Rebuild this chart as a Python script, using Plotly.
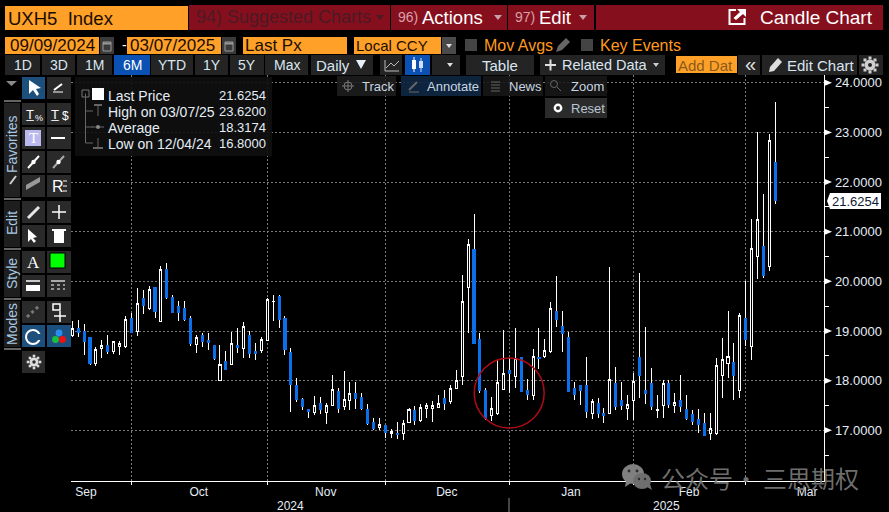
import plotly.graph_objects as go

W, H = 889, 512
FONT = "Liberation Sans"
CJK = "Noto Sans CJK SC"

# ---------- data ----------
opens = [18.91,19.05,18.99,18.86,18.34,18.64,18.70,18.58,18.68,18.68,19.26,18.99,19.66,19.45,19.87,19.19,20.24,19.68,19.50,19.46,
         19.26,18.72,18.90,18.80,18.70,18.00,18.38,18.32,18.70,18.64,18.90,18.58,18.60,18.81,19.59,19.70,19.26,18.56,17.91,17.63,
         17.41,17.35,17.55,17.35,17.50,17.79,17.47,17.60,17.75,17.67,17.41,17.15,17.05,17.09,16.93,16.93,16.93,17.15,17.39,17.19,
         17.44,17.43,17.45,17.65,17.59,17.85,18.08,19.87,20.65,18.82,17.81,17.29,17.33,17.83,18.21,18.09,18.46,17.81,17.71,18.46,
         18.48,18.58,19.40,19.10,18.86,17.85,17.91,17.91,17.33,17.55,17.33,17.34,17.95,17.61,17.44,17.60,18.46,17.81,17.95,17.40,
         17.50,17.95,17.50,17.61,17.41,17.31,17.21,17.13,16.93,16.93,18.10,18.34,18.36,17.80,19.26,18.68,20.50,20.71,20.29,22.40]
highs = [19.20,19.22,19.15,18.86,18.67,18.82,18.92,18.80,18.80,19.30,19.36,19.87,19.82,19.90,19.87,20.31,20.36,19.72,19.60,19.60,
         19.30,18.91,18.95,18.96,18.70,18.72,18.60,18.98,19.06,19.18,19.00,18.76,18.88,19.66,19.72,19.72,19.30,18.66,18.05,17.65,
         17.43,17.69,17.67,17.55,18.11,17.85,18.19,17.97,17.97,17.75,17.53,17.25,17.25,17.11,17.03,17.17,17.21,17.45,17.49,17.53,
         17.55,17.59,17.71,17.81,17.91,18.21,20.13,20.85,21.35,18.96,17.85,17.67,18.42,19.02,18.46,19.06,18.48,18.03,18.64,19.06,
         18.84,19.58,20.11,19.40,18.98,17.97,17.91,18.48,17.63,17.65,17.45,20.29,18.27,17.97,17.71,18.15,20.17,19.08,18.25,17.71,
         18.01,18.01,17.75,18.11,17.71,17.41,17.43,17.35,17.35,18.46,18.86,19.40,18.76,19.36,20.01,21.25,23.00,21.76,22.97,23.62]
lows = [18.87,18.87,18.52,18.32,18.29,18.46,18.54,18.54,18.52,18.66,18.97,18.90,19.34,19.43,19.26,19.19,19.64,19.37,19.20,19.21,
        18.70,18.56,18.68,18.62,18.42,18.00,18.23,18.31,18.56,18.46,18.46,18.42,18.56,18.81,19.20,19.06,18.52,17.37,17.57,17.41,
        17.25,17.31,17.33,17.13,17.50,17.35,17.41,17.41,17.43,17.41,17.11,17.01,17.01,16.85,16.85,16.83,16.80,17.14,17.11,17.17,
        17.25,17.17,17.45,17.41,17.53,17.83,17.91,18.96,18.74,17.75,17.21,17.19,17.31,17.83,17.75,17.85,17.79,17.61,17.61,18.23,
        18.46,18.56,19.08,18.58,17.77,17.61,17.51,17.25,17.23,17.25,17.15,17.33,17.41,17.41,17.21,17.21,17.65,17.53,17.41,17.25,
        17.25,17.45,17.35,17.37,17.21,17.11,16.95,16.89,16.81,16.91,17.65,18.05,17.61,17.65,18.70,18.42,20.05,20.07,20.21,21.56]
closes = [19.05,18.96,18.78,18.34,18.63,18.71,18.58,18.78,18.75,19.23,18.97,19.56,19.51,19.84,19.40,20.24,19.68,19.37,19.38,19.24,
          18.74,18.87,18.78,18.76,18.44,18.33,18.23,18.75,18.66,19.09,18.54,18.54,18.82,19.64,19.60,19.24,18.62,17.93,17.63,17.47,
          17.37,17.49,17.41,17.50,17.83,17.43,17.62,17.74,17.65,17.43,17.13,17.03,17.11,16.95,16.97,16.91,17.13,17.41,17.19,17.45,
          17.49,17.49,17.53,17.53,17.85,18.01,19.60,20.75,18.74,17.81,17.23,17.43,17.97,18.15,18.15,18.44,17.79,17.73,18.48,18.44,
          18.60,19.46,19.24,18.94,17.79,17.73,17.81,17.37,17.59,17.33,17.29,18.03,17.47,17.49,17.52,17.99,18.11,17.75,17.47,17.42,
          17.95,17.51,17.56,17.47,17.23,17.17,17.11,16.89,17.04,18.31,18.43,18.49,18.11,19.32,18.82,20.66,21.25,20.11,22.84,21.6254]

month_labels = ["Sep", "Oct", "Nov", "Dec", "Jan", "Feb", "Mar"]
month_label_pos = [2.3, 21.4, 42.9, 63.4, 84.4, 104.4, 124.4]
month_starts = [10, 33, 53, 74, 95, 114]
y_ticks = [17, 18, 19, 20, 21, 22, 23, 24]
y_minor = [16.5, 17.5, 18.5, 19.5, 20.5, 21.5, 22.5, 23.5]
year_labels = ["2024", "2025"]

legend_rows = [("Last Price", "21.6254"), ("High on 03/07/25", "23.6200"),
               ("Average", "18.3174"), ("Low on 12/04/24", "16.8000")]

# ---------- marks ----------
idx = list(range(len(opens)))
down = [i for i in idx if closes[i] < opens[i]]
BLUE = "#0a6fe8"

fig = go.Figure()
fig.add_trace(go.Candlestick(
    x=idx, open=opens, high=highs, low=lows, close=closes,
    whiskerwidth=0, showlegend=False, hoverinfo="skip",
    increasing=dict(line=dict(color="#ffffff", width=1), fillcolor="#000000"),
    decreasing=dict(line=dict(color="#ffffff", width=1), fillcolor=BLUE)))
fig.add_trace(go.Candlestick(
    x=down, open=[opens[i] for i in down], high=[opens[i] for i in down],
    low=[closes[i] for i in down], close=[closes[i] for i in down],
    whiskerwidth=0, showlegend=False, hoverinfo="skip",
    increasing=dict(line=dict(color=BLUE, width=1), fillcolor=BLUE),
    decreasing=dict(line=dict(color=BLUE, width=1), fillcolor=BLUE)))

# ---------- chrome helpers (pixel positions to paper) ----------
shapes, notes = [], []
px = lambda v: v / W
py = lambda v: 1 - v / H


def rect(x0, y0, x1, y1, fill, line=None, lw=1):
    shapes.append(dict(type="rect", xref="paper", yref="paper", x0=px(x0), x1=px(x1), y0=py(y0), y1=py(y1),
                       fillcolor=fill, line=dict(color=line or "rgba(0,0,0,0)", width=lw if line else 0), layer="above"))


def seg(x0, y0, x1, y1, color, lw=1, dash=None):
    shapes.append(dict(type="line", xref="paper", yref="paper", x0=px(x0), x1=px(x1), y0=py(y0), y1=py(y1),
                       line=dict(color=color, width=lw, dash=dash or "solid"), layer="above"))


def poly(pts, fill):
    p = "M " + " L ".join(f"{px(a):.5f} {py(b):.5f}" for a, b in pts) + " Z"
    shapes.append(dict(type="path", xref="paper", yref="paper", path=p, fillcolor=fill,
                       line=dict(width=0, color="rgba(0,0,0,0)"), layer="above"))


def circ(cx, cy, r, fill=None, line=None, lw=1, ry=None):
    ry = ry or r
    shapes.append(dict(type="circle", xref="paper", yref="paper", x0=px(cx - r), x1=px(cx + r),
                       y0=py(cy + ry), y1=py(cy - ry), fillcolor=fill or "rgba(0,0,0,0)",
                       line=dict(color=line or "rgba(0,0,0,0)", width=lw if line else 0), layer="above"))


def text(x, y, s, size=13, color="#dfe8f0", anchor="left", family=FONT, angle=0):
    notes.append(dict(xref="paper", yref="paper", x=px(x), y=py(y), text=s, showarrow=False,
                      xanchor=anchor, yanchor="middle", textangle=angle, borderpad=0, borderwidth=0,
                      font=dict(family=family, size=size, color=color)))


ORANGE = "#ffa028"
RED = "#860f1e"
BTN = "#242424"
INK = "#d9e6f2"
AMBER = "#ff9a1e"

# ---------- row 1 ----------
rect(5, 6, 188, 30, ORANGE)
text(8, 18, "UXH5  Index", 18.5, "#1a0d00")
rect(189, 5, 390, 30, RED)
text(196, 17, "94) Suggested Charts", 18, "#4c1a24")
poly([(376, 15), (384, 15), (380, 20)], "#4c1a24")
rect(391, 5, 507, 30, RED)
text(398, 17, "96)", 14, "#d9a0a8")
text(422, 17, "Actions", 18.5, "#ffffff")
poly([(494, 15), (502, 15), (498, 20)], "#c9a0a8")
rect(508, 5, 594, 30, RED)
text(515, 17, "97)", 14, "#d9a0a8")
text(539, 17, "Edit", 18.5, "#ffffff")
poly([(579, 15), (587, 15), (583, 20)], "#c9a0a8")
rect(596, 5, 883, 30, RED)
rect(729.5, 10, 744.5, 24, "rgba(0,0,0,0)", "#ffffff", 2)
rect(736, 7, 747, 18, RED)
poly([(737, 9), (746, 9), (746, 17), (743, 14), (736, 20), (733.5, 18), (740, 12)], "#ffffff")
text(760, 17, "Candle Chart", 19, "#ffffff")

# ---------- row 2 ----------
rect(5, 37, 99, 54, ORANGE)
text(10, 45.5, "09/09/2024", 17, "#1a0d00")
rect(100, 37, 114, 54, "#3a3a3a")
rect(103, 42, 111, 51, "rgba(0,0,0,0)", "#999999", 1)
seg(103, 43.5, 111, 43.5, "#999999", 2)
text(122, 45, "-", 14, "#ffffff")
rect(127, 37, 221, 54, ORANGE)
text(130, 45.5, "03/07/2025", 17, "#1a0d00")
rect(222, 37, 236, 54, "#3a3a3a")
rect(225, 42, 233, 51, "rgba(0,0,0,0)", "#999999", 1)
seg(225, 43.5, 233, 43.5, "#999999", 2)
rect(243, 37, 347, 54, ORANGE)
text(245, 45.5, "Last Px", 17, "#1a0d00")
rect(354, 37, 441, 54, ORANGE)
text(356, 45.5, "Local CCY", 15, "#1a0d00")
rect(442, 37, 456, 54, "#4a4a4a")
poly([(446, 44), (452, 44), (449, 48)], "#e0e0e0")
rect(465, 39, 477, 51, "#444444")
text(484, 45.5, "Mov Avgs", 16, AMBER)
poly([(556, 52), (558, 46), (566, 38), (570, 42), (562, 50)], "#666666")
rect(581, 39, 593, 51, "#444444")
text(600, 45.5, "Key Events", 16, AMBER)

# ---------- row 3 ----------
for x0, x1, lab in [(5, 40, "1D"), (42, 75, "3D"), (77, 112, "1M"), (151, 193, "YTD"),
                    (195, 228, "1Y"), (230, 264, "5Y"), (265, 308, "Max")]:
    rect(x0, 55, x1, 75, BTN)
    text((x0 + x1) / 2, 65, lab, 14, INK, "center")
rect(114, 55, 150, 75, "#0b50b3")
text(132, 65, "6M", 14, "#ffffff", "center")
rect(311, 55, 373, 75, BTN)
text(316, 65, "Daily", 15, INK)
poly([(356, 60), (366, 60), (361, 69)], "#e8f0f8")
rect(380, 55, 402, 75, BTN)
seg(385, 60, 385, 71, "#bbbbbb")
seg(385, 71, 399, 71, "#bbbbbb")
seg(386, 68, 391, 63, "#bbbbbb")
seg(391, 63, 394, 66, "#bbbbbb")
seg(394, 66, 399, 61, "#bbbbbb")
rect(405, 55, 430, 75, "#0b50b3")
seg(414, 57, 414, 72, "#ffffff")
rect(412, 60, 416, 69, "#ffffff")
seg(421, 58, 421, 72, "#cfe0f5")
rect(419, 61, 423, 68, "#cfe0f5")
rect(432, 55, 460, 75, BTN)
poly([(447, 63), (453, 63), (450, 67)], "#dddddd")
rect(466, 55, 534, 75, BTN)
text(500, 65, "Table", 15, INK, "center")
rect(540, 55, 665, 75, BTN)
seg(545, 65, 556, 65, "#e0e0e0", 2)
seg(550.5, 59.5, 550.5, 70.5, "#e0e0e0", 2)
text(562, 65, "Related Data", 14.5, INK)
poly([(653, 63), (659, 63), (656, 67)], "#cccccc")
rect(676, 56, 737, 73, ORANGE)
text(678, 65, "Add Dat", 15, "#8a5a1a")
rect(738, 55, 760, 75, BTN)
text(750, 64, "«", 20, "#e0e0e0", "center")
rect(762, 55, 857, 75, BTN)
poly([(769, 72), (770, 67), (778, 58), (782, 62), (774, 71)], "#dddddd")
text(787, 65, "Edit Chart", 15, INK)
rect(859, 55, 883, 75, BTN)
circ(870, 65, 5.5, "#d0d0d0")
circ(870, 65, 2, "#242424")
for dx, dy in [(0, -7), (0, 7), (-7, 0), (7, 0), (-5, -5), (5, -5), (-5, 5), (5, 5)]:
    rect(870 + dx - 1.5, 65 + dy - 1.5, 870 + dx + 1.5, 65 + dy + 1.5, "#d0d0d0")

# ---------- mini toolbar over the plot ----------
rect(337, 76, 396, 96, "rgba(30,30,30,0.85)")
circ(348, 86, 4, None, "#777777")
seg(342, 86, 354, 86, "#777777")
seg(348, 80, 348, 92, "#777777")
text(362, 86, "Track", 13, "#c9d6e2")
rect(401, 76, 481, 96, "rgba(16,40,66,0.9)")
seg(409, 90, 417, 82, "#666666", 2)
seg(409, 92, 419, 92, "#666666")
text(427, 86, "Annotate", 13, "#c9d6e2")
rect(483, 76, 543, 96, "rgba(25,25,25,0.85)")
for yy in [82, 85, 88, 91]:
    seg(491, yy, 500, yy, "#666666")
text(509, 86, "News", 13, "#c9d6e2")
rect(545, 76, 607, 96, "rgba(25,25,25,0.85)")
circ(554, 84, 3.5, None, "#666666")
seg(557, 87, 561, 91, "#666666")
text(571, 86, "Zoom", 13, "#c9d6e2")
rect(545, 98, 607, 118, "#2b2b2b")
circ(558, 108, 3.2, None, "#ffffff", 2.4)
text(571, 108, "Reset", 13, "#b9c6d2")

# ---------- legend panel ----------
rect(75, 77, 272, 156, "rgba(16,16,16,0.9)")
rect(82, 90, 89, 97, "rgba(0,0,0,0)", "#777777")
seg(85.5, 93.5, 85.5, 143, "#666666")
for yy in [111, 127, 143]:
    seg(85.5, yy, 93, yy, "#666666")
rect(92, 88, 104, 100, "#ffffff")
seg(98, 105, 98, 116, "#666666")
seg(94, 105, 102, 105, "#666666", 2)
seg(92, 127, 104, 127, "#666666")
circ(98, 127, 2, "#888888")
seg(98, 138, 98, 149, "#666666")
seg(93, 148, 103, 148, "#666666", 2)
for yy, (lab, val) in zip([95.5, 111.5, 127.5, 143.5], legend_rows):
    text(108, yy, lab, 14, "#e4edf5")
    text(266, yy, val, 13, "#e4edf5", "right")

# ---------- left toolbar ----------
poly([(6, 81), (17, 81), (11.5, 86)], "#8a8a8a")
rows = [77, 103, 127, 151, 175, 201, 225, 251, 275, 301, 325, 351]
for i, yy in enumerate(rows):
    rect(22, yy, 45, yy + 22, "#1d4f7d" if i in (0, 10) else "#2a2a2a")
    if i < 11:
        rect(47, yy, 71, yy + 22, "#1d4f7d" if i == 10 else "#2a2a2a")
rect(4, 103, 20, 197, "#222222")
rect(4, 201, 20, 247, "#1e1e1e")
rect(4, 251, 20, 297, "#1e1e1e")
rect(4, 301, 20, 347, "#1e1e1e")
for yy in [101, 199, 249, 299, 349]:
    seg(4, yy, 21, yy, "#c8c8c8")
text(12, 144, "Favorites", 14, "#a9c8e0", "center", angle=-90)
text(12, 223, "Edit", 14, "#a9c8e0", "center", angle=-90)
text(12, 274, "Style", 14, "#a9c8e0", "center", angle=-90)
text(12, 324, "Modes", 14, "#a9c8e0", "center", angle=-90)
seg(10, 184, 16, 176, "#d0d0d0", 2)
poly([(29, 80), (29, 94), (33, 90), (37, 96), (39, 94), (36, 89), (41, 88)], "#ffffff")
seg(54, 90, 62, 84, "#ffffff", 2)
seg(53, 92, 63, 92, "#ffffff")
text(30, 114, "T̲", 13, "#ffffff", "center")
text(55, 114, "T̲", 13, "#ffffff", "center")
text(39, 118, "%", 9, "#ffffff", "center")
text(65, 116, "$", 12, "#ffffff", "center")
rect(25, 130, 41, 146, "#b9b9f0")
text(33, 138, "T", 15, "#ffffff", "center", "Liberation Serif")
seg(51, 138, 65, 138, "#ffffff", 2)
seg(28, 168, 39, 156, "#ffffff", 2)
circ(33.5, 162, 2.2, "#ffffff")
seg(53, 168, 64, 156, "#aaaaaa", 2)
circ(58.5, 162, 2.2, "#ffffff")
poly([(26, 190), (40, 182), (40, 177), (26, 185)], "#999999")
text(52, 186, "R", 16, "#ffffff")
for yy in [181, 186, 191]:
    seg(63, yy, 67, yy, "#ffffff")
seg(28, 218, 39, 207, "#e6e6e6", 3)
seg(52, 212, 66, 212, "#ffffff", 1.5)
seg(59, 205, 59, 219, "#ffffff", 1.5)
poly([(28, 229), (28, 242), (31, 239), (34, 243), (36, 241), (33, 238), (37, 237)], "#ffffff")
rect(54, 231, 64, 243, "#ffffff")
rect(52, 229, 66, 231, "#ffffff")
text(33, 262, "A", 17, "#ffffff", "center", "Liberation Serif")
rect(50, 253, 65, 268, "#00ff00", "#000000", 1)
seg(26, 281, 40, 281, "#ffffff", 1.5)
rect(26, 285, 40, 291, "#ffffff")
seg(51, 281, 65, 281, "#ffffff", 1.2)
seg(51, 285, 65, 285, "#ffffff", 1, "dot")
seg(51, 289, 65, 289, "#ffffff", 1, "dot")
seg(27, 317, 39, 306, "#777777", 3, "dot")
rect(53, 304, 60, 310, "rgba(0,0,0,0)", "#ffffff", 1.5)
seg(54, 316, 66, 316, "#ffffff", 1.5)
seg(60, 311, 60, 322, "#ffffff", 1.5)
circ(33, 337, 7, None, "#ffffff", 2)
rect(35, 334, 43, 340, "#1d4f7d")
circ(59, 333, 3.4, "#2b8cf0")
circ(55.5, 339.5, 3.4, "#18c040")
circ(62.5, 339.5, 3.4, "#ee1111")
circ(34, 362, 4.5, "#dddddd")
circ(34, 362, 1.7, "#2a2a2a")
for dx, dy in [(0, -6), (0, 6), (-6, 0), (6, 0), (-4, -4), (4, -4), (-4, 4), (4, 4)]:
    rect(34 + dx - 1.3, 362 + dy - 1.3, 34 + dx + 1.3, 362 + dy + 1.3, "#dddddd")

# ---------- annotation on the chart ----------
circ(509.2, 393, 35, None, "#b00b15", 1.5)

# ---------- y tick arrows, last price tag, year labels ----------
for v in y_ticks:
    shapes.append(dict(type="path", xref="paper", yref="y", layer="above",
                       path=f"M {px(824.3):.5f} {v - 0.065} L {px(832):.5f} {v} L {px(824.3):.5f} {v + 0.065} Z",
                       fillcolor="#ffffff", line=dict(width=0, color="rgba(0,0,0,0)")))
poly([(827, 201), (830, 193), (881, 193), (881, 209), (830, 209)], "#ffffff")
text(879, 201, f"{closes[-1]:.4f}", 13, "#0d1a33", "right")
text(290, 505.5, year_labels[0], 12, "#e4edf5", "center")
text(666, 505.5, year_labels[1], 12, "#e4edf5", "center")
seg(509, 498, 509, 512, "#8a8a8a")

# ---------- watermark ----------
MARK = "rgba(125,125,125,0.9)"
circ(633, 474, 11, "#808080", ry=10)
circ(642, 481, 9, "#6e6e6e", ry=8)
poly([(626, 481), (625, 487), (631, 483)], "#808080")
poly([(647, 487), (652, 490), (650, 484)], "#6e6e6e")
for cx, cy in [(629, 471), (637, 471)]:
    circ(cx, cy, 1.4, "#2a2a2a")
for cx, cy in [(639, 479), (645, 479)]:
    circ(cx, cy, 1.2, "#2a2a2a")
text(661, 477, "公众号", 24, MARK, family=CJK)
text(746, 477, "·", 24, MARK, "center", family=CJK)
text(763, 477, "三思期权", 24, MARK, family=CJK)

# ---------- layout ----------
fig.update_layout(
    width=W, height=H, autosize=False,
    margin=dict(l=0, r=0, t=0, b=0, pad=0),
    paper_bgcolor="#000000", plot_bgcolor="#000000",
    showlegend=False, boxgap=0.5,
    shapes=shapes, annotations=notes,
    xaxis=dict(domain=[71 / W, 824.3 / W], range=[-0.22, 127.3], rangeslider=dict(visible=False),
               tickmode="array", tickvals=month_label_pos, ticktext=month_labels,
               ticks="", showgrid=False, zeroline=False,
               tickfont=dict(family=FONT, size=12, color="#e4edf5"),
               showline=True, linecolor="#ffffff", linewidth=1,
               minor=dict(tickmode="array", tickvals=month_starts, ticks="outside", ticklen=3, tickcolor="#ffffff",
                          showgrid=True, gridcolor="#7a7a7a", griddash="2px,2px", gridwidth=1)),
    yaxis=dict(domain=[1 - 481 / H, 1 - 75 / H], range=[15.979, 24.156], side="right", anchor="x",
               tickmode="array", tickvals=y_ticks, tickformat=".4f",
               ticks="outside", ticklen=7, tickcolor="rgba(0,0,0,0)",
               showgrid=True, gridcolor="#7a7a7a", griddash="2px,2px", gridwidth=1, zeroline=False,
               showline=True, linecolor="#ffffff", linewidth=1,
               tickfont=dict(family=FONT, size=13, color="#e4edf5"),
               minor=dict(tickmode="array", tickvals=y_minor, ticks="outside", ticklen=4, tickcolor="#ffffff", showgrid=False)),
)

fig.write_html("out.html", config=dict(displayModeBar=False),
               post_script="document.body.style.margin='0';document.body.style.background='#000';"
                           "document.querySelectorAll('.boxlayer path').forEach(function(p){p.style.shapeRendering='crispEdges';});")
